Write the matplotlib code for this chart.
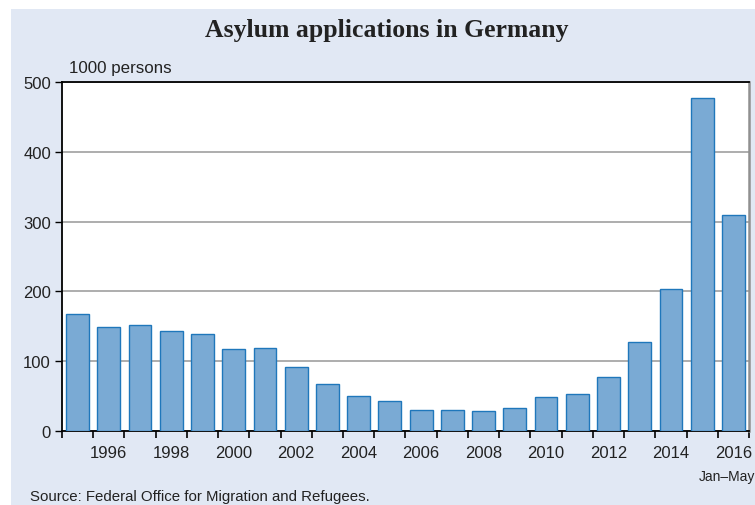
import numpy as np
import matplotlib.pyplot as plt
from matplotlib.patches import Rectangle

years = list(range(1995, 2017))
applications = [167.0, 149.2, 151.7, 143.4, 138.3, 117.6, 118.3, 91.5, 67.8, 50.2, 42.9,
                30.1, 30.3, 28.0, 33.0, 48.6, 53.3, 77.7, 127.0, 202.8, 476.6, 310.0]
label_years = list(range(1996, 2017, 2))
y_ticks = [0, 100, 200, 300, 400, 500]

W, H = 755, 506
fig = plt.figure(figsize=(W / 100, H / 100), dpi=100)
fig.patch.set_facecolor("white")

# light blue panel behind the chart
fig.patches.append(Rectangle((11 / W, 0), 1 - 11 / W, (H - 10) / H,
                             transform=fig.transFigure, facecolor="#e1e8f4",
                             edgecolor="none", zorder=-10))

ax = fig.add_axes([62 / W, (H - 432) / H, (749 - 62) / W, (432 - 83) / H])
ax.set_facecolor("white")

x = np.arange(len(years))
ax.bar(x, applications, width=0.73, color="#7aaad4", edgecolor="#1f77bb",
       linewidth=1.0, zorder=3)

ax.set_xlim(-0.5, len(years) - 0.5)
ax.set_ylim(0, 500)

ax.set_yticks(y_ticks)
ax.set_yticklabels([str(v) for v in y_ticks], fontsize=12,
                   family="Liberation Sans", color="#222222")
ax.yaxis.grid(True, color="#a0a0a0", linewidth=1.2, zorder=1)
ax.tick_params(axis="y", length=5, width=1, direction="out", pad=3)

ax.set_xticks([years.index(y) for y in label_years])
ax.set_xticklabels([str(y) for y in label_years], fontsize=12,
                   family="Liberation Sans", color="#222222")
ax.set_xticks(np.arange(-0.5, len(years)), minor=True)
ax.tick_params(axis="x", which="major", length=0, pad=10)
ax.tick_params(axis="x", which="minor", length=5, width=1.2, direction="out")

for side in ["top", "left", "bottom"]:
    ax.spines[side].set_color("black")
    ax.spines[side].set_linewidth(1.3)
ax.spines["right"].set_color("#909090")
ax.spines["right"].set_linewidth(1.8)

fig.text(387 / W, 1 - 31 / H, "Asylum applications in Germany", ha="center",
         va="center", fontsize=18.5, fontweight="bold", family="Liberation Serif",
         color="#222222")
fig.text(69 / W, 1 - 69 / H, "1000 persons", ha="left", va="center",
         fontsize=12.2, family="Liberation Sans", color="#222222")
# the reference clips this at the edge; kept just inside here
fig.text(699 / W, 1 - 477 / H, "Jan\u2013May", ha="left", va="center",
         fontsize=10, family="Liberation Sans", color="#222222")
fig.text(30 / W, 1 - 497 / H, "Source: Federal Office for Migration and Refugees.",
         ha="left", va="center", fontsize=10.8, family="Liberation Sans",
         color="#222222")

fig.savefig("out.png", dpi=100)
